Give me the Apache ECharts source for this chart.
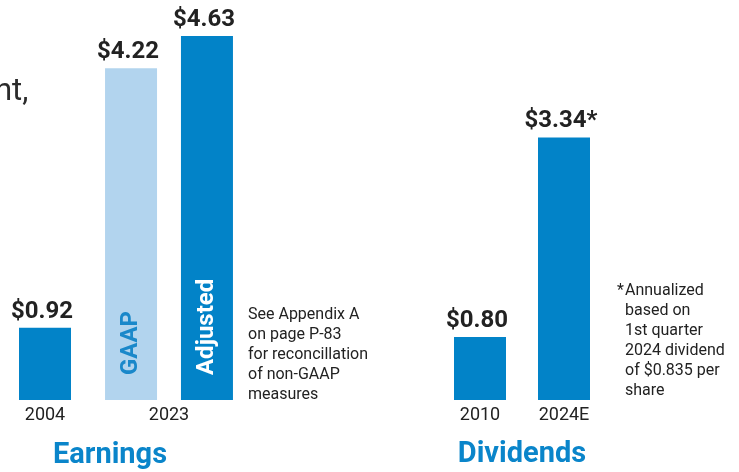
<!DOCTYPE html>
<html><head><meta charset="utf-8">
<script src="https://cdn.jsdelivr.net/npm/echarts@6/dist/echarts.min.js"></script>
<style>html,body{margin:0;padding:0;background:#fff}#c{width:739px;height:472px}</style>
</head><body><div id="c"></div>
<script>
// ---- data ----
const earningsEarlyYears = ['2004'];
const earningsEarlyValues = [0.92];
const earningsRecentYears = ['2023'];
const gaapValues = [4.22];
const adjustedValues = [4.63];
const recentSeriesNames = ['GAAP', 'Adjusted'];
const dividendYears = ['2010', '2024E'];
const dividendValues = [0.80, 3.34];
const dividendMarks = ['', '*'];
const sectionTitles = ['Earnings', 'Dividends'];
const earningsNote = ['See Appendix A', 'on page P-83', 'for reconcillation', 'of non-GAAP', 'measures'];
const dividendNote = ['Annualized', 'based on', '1st quarter', '2024 dividend', 'of $0.835 per', 'share'];
const headlineFragment = 'nt,';

// ---- styles ----
const DARK = '#0283C8';
const LIGHT = '#B2D4EE';
const TEXT = '#222222';
const FONT = 'Roboto, "Noto Sans", sans-serif';

const valueLabel = (marks) => ({
  show: true, position: 'top', distance: 4, offset: [-3, 0],
  fontFamily: FONT, fontSize: 24, fontWeight: 'bold', color: TEXT,
  formatter: p => '$' + Number(p.value).toFixed(2) + (marks ? (marks[p.dataIndex] || '') : '')
});

const yMax = 5;
const gridTop = 7, gridBottom = 72;
const grids = [
  { left: 5, width: 80, top: gridTop, bottom: gridBottom, outerBoundsMode: 'none', containLabel: false },
  { left: 99, width: 140, top: gridTop, bottom: gridBottom, outerBoundsMode: 'none', containLabel: false },
  { left: 438, width: 168, top: gridTop, bottom: gridBottom, outerBoundsMode: 'none', containLabel: false }
];
const catAxis = (gridIndex, data, show) => ({
  type: 'category', gridIndex, data, show,
  axisLine: { show: false }, axisTick: { show: false }, splitLine: { show: false },
  axisLabel: { show: true, margin: 6, fontFamily: FONT, fontSize: 18, color: TEXT }
});
const valAxis = (gridIndex) => ({ type: 'value', gridIndex, min: 0, max: yMax, show: false, splitLine: { show: false } });

const insideLabel = (color) => ({
  show: true, position: 'insideBottom', rotate: 90, align: 'left', verticalAlign: 'middle',
  distance: 25, fontFamily: FONT, fontSize: 24, fontWeight: 'bold', color,
  formatter: p => p.seriesName
});

const option = {
  backgroundColor: '#ffffff',
  animation: false,
  grid: grids,
  xAxis: [
    catAxis(0, earningsEarlyYears, true),
    catAxis(1, earningsRecentYears, true),
    catAxis(1, earningsRecentYears, false),
    catAxis(2, dividendYears, true)
  ],
  yAxis: [valAxis(0), valAxis(1), valAxis(2)],
  series: [
    { name: 'Earnings 2004', type: 'bar', xAxisIndex: 0, yAxisIndex: 0, data: earningsEarlyValues,
      barWidth: 52, itemStyle: { color: DARK }, label: valueLabel() },
    { name: recentSeriesNames[0], type: 'bar', xAxisIndex: 1, yAxisIndex: 1, data: gaapValues,
      barWidth: 52, barGap: '46%', itemStyle: { color: LIGHT }, label: valueLabel() },
    { name: recentSeriesNames[1], type: 'bar', xAxisIndex: 1, yAxisIndex: 1, data: adjustedValues,
      barWidth: 52, barGap: '46%', itemStyle: { color: DARK }, label: valueLabel() },
    { name: recentSeriesNames[0], type: 'bar', xAxisIndex: 2, yAxisIndex: 1, data: gaapValues,
      barWidth: 52, barGap: '46%', itemStyle: { color: 'rgba(0,0,0,0)' }, label: insideLabel('#1A88CA'), z: 5, silent: true },
    { name: recentSeriesNames[1], type: 'bar', xAxisIndex: 2, yAxisIndex: 1, data: adjustedValues,
      barWidth: 52, barGap: '46%', itemStyle: { color: 'rgba(0,0,0,0)' }, label: insideLabel('#ffffff'), z: 5, silent: true },
    { name: 'Dividends', type: 'bar', xAxisIndex: 3, yAxisIndex: 2, data: dividendValues,
      barWidth: 52, itemStyle: { color: DARK }, label: valueLabel(dividendMarks) }
  ],
  graphic: [
    { type: 'text', left: -5, top: 77, style: { text: headlineFragment, font: '400 31px ' + FONT, fill: '#2b2b2b' } },
    { type: 'text', x: 110, y: 456, style: { text: sectionTitles[0], font: 'bold 29px ' + FONT, fill: '#0A85CA', textAlign: 'center', textVerticalAlign: 'middle' } },
    { type: 'text', x: 522, y: 455, style: { text: sectionTitles[1], font: 'bold 29px ' + FONT, fill: '#0A85CA', textAlign: 'center', textVerticalAlign: 'middle' } },
    { type: 'text', x: 248, y: 305, style: { text: earningsNote.join('\n'), font: '16px ' + FONT, lineHeight: 20, fill: TEXT, textAlign: 'left', textVerticalAlign: 'top' } },
    { type: 'text', x: 617, y: 281, style: { text: '*', font: '16px ' + FONT, lineHeight: 20, fill: TEXT, textAlign: 'left', textVerticalAlign: 'top' } },
    { type: 'text', x: 625, y: 281, style: { text: dividendNote.join('\n'), font: '16px ' + FONT, lineHeight: 20, fill: TEXT, textAlign: 'left', textVerticalAlign: 'top' } }
  ]
};
const chart = echarts.init(document.getElementById('c'), null, { renderer: 'canvas' });
chart.setOption(option);
</script>
</body></html>
